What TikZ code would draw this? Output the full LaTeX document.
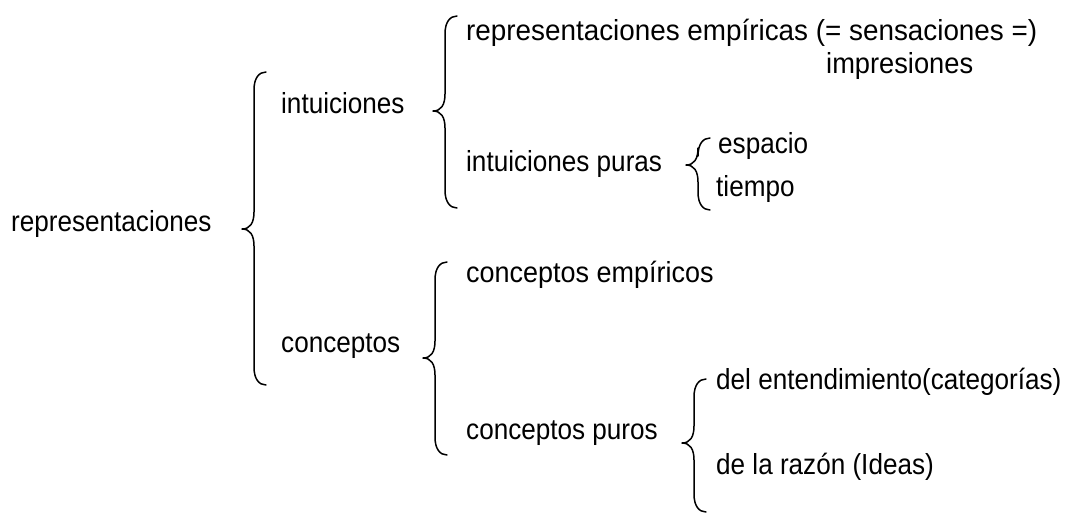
\documentclass[tikz,border=0pt]{standalone}
\usepackage{fontspec}
\setmainfont{Liberation Sans}[FakeStretch=0.9]
\newcommand\mybrace[4]{% xv, ytop, ycusp, ybottom
  \draw[bracestyle] (#1+12,#2) .. controls (#1+5,#2) and (#1,#2+6) .. (#1,#2+18)
    -- (#1,#3-17) .. controls (#1,#3-6) and (#1-4,#3) .. (#1-12,#3)
    .. controls (#1-4,#3) and (#1,#3+6) .. (#1,#3+17)
    -- (#1,#4-18) .. controls (#1,#4-6) and (#1+5,#4) .. (#1+12,#4);}
\begin{document}
\begin{tikzpicture}[x=1pt,y=-1pt,
  lbl/.style={anchor=base west,inner sep=0pt,font=\fontsize{29}{32}\selectfont},
  bracestyle/.style={line width=1.5pt,line cap=round,line join=round}]
\useasboundingbox (0,0) rectangle (1068,515);
\node[lbl] (rep) at (11,231) {representaciones};
\node[lbl] (intu) at (281,113) {intuiciones};
\node[lbl] (conc) at (281,352) {conceptos};
\node[lbl] (remp) at (466,40) {\addfontfeature{FakeStretch=0.96}representaciones empíricas (= sensaciones =)};
\node[lbl] (impr) at (826,73) {\addfontfeature{FakeStretch=0.94}impresiones};
\node[lbl] (ipur) at (466,171) {intuiciones puras};
\node[lbl] (esp) at (718,153) {espacio};
\node[lbl] (tie) at (716,196) {tiempo};
\node[lbl] (cemp) at (466,282) {\addfontfeature{FakeStretch=0.93}conceptos empíricos};
\node[lbl] (cpur) at (466,439) {conceptos puros};
\node[lbl] (dent) at (716,389) {del entendimiento(categorías)};
\node[lbl] (draz) at (716,474) {de la razón (Ideas)};
\mybrace{254}{72}{229}{385}
\mybrace{445}{16}{111}{208}
\mybrace{698}{138}{165}{210}
\mybrace{435}{262}{358}{455}
\mybrace{694}{379}{443}{512}
\end{tikzpicture}
\end{document}
